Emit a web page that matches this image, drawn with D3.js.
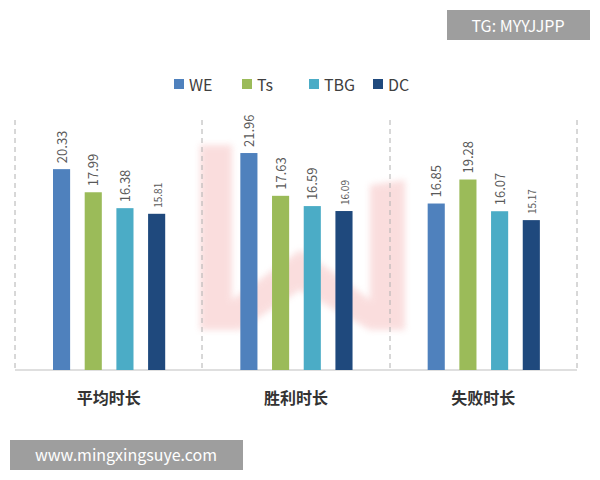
<!DOCTYPE html>
<html><head><meta charset="utf-8">
<script src="https://cdn.jsdelivr.net/npm/d3@7"></script>
<style>body{margin:0;background:#fff}</style></head>
<body><svg id="c" width="600" height="480"></svg>
<script>
const categories=["平均时长","胜利时长","失败时长"];
const seriesNames=["WE","Ts","TBG","DC"];
const WE=[20.33,21.96,16.85];
const Ts=[17.99,17.63,19.28];
const TBG=[16.38,16.59,16.07];
const DC=[15.81,16.09,15.17];
const values=[WE,Ts,TBG,DC];
const colors=["#4f81bd","#9bbb59","#4bacc6","#1f497d"];
const svg=d3.select("#c");
const font="'Noto Sans CJK SC','Noto Sans',sans-serif";
const x0=d3.scaleBand().domain(categories).range([15,577]);
const x1=d3.scaleBand().domain(seriesNames).range([38,150.2]).paddingInner(0.46).paddingOuter(0);
const y=d3.scaleLinear().domain([0,25]).range([370,123]);
const defs=svg.append("defs");
defs.append("filter").attr("id","bl").append("feGaussianBlur").attr("stdDeviation",3);
svg.append("path").attr("d","M200,145 L232,145 L232,300 L300,250 L330,270 L370,300 L370,185 L405,180 L405,330 L370,330 L300,290 L240,330 L200,330 Z")
 .attr("fill","#f4b6b6").attr("opacity",0.45).attr("filter","url(#bl)");
[15,202,390,577].forEach(v=>svg.append("line").attr("x1",v).attr("x2",v).attr("y1",120).attr("y2",370)
 .attr("stroke","#b0b0b0").attr("stroke-dasharray","5,4"));
svg.append("line").attr("x1",15).attr("x2",577).attr("y1",370).attr("y2",370).attr("stroke","#bfbfbf");
categories.forEach((c,i)=>{
  seriesNames.forEach((s,j)=>{
    const v=values[j][i], bx=x0(c)+x1(s);
    svg.append("rect").attr("x",bx).attr("y",y(v)).attr("width",x1.bandwidth()).attr("height",y(0)-y(v)).attr("fill",colors[j]);
    svg.append("text").attr("transform",`translate(${bx+x1.bandwidth()/2+5},${y(v)-6}) rotate(-90)`)
     .attr("font-family",font).attr("font-size",j==3?10:13).attr("fill","#595959").text(v.toFixed(2));
  });
  svg.append("text").attr("x",x0(c)+x0.bandwidth()/2).attr("y",404).attr("text-anchor","middle")
   .attr("font-family",font).attr("font-size",16).attr("font-weight","bold").attr("fill","#333").text(c);
});
const lx=[174,242,309,373];
seriesNames.forEach((s,j)=>{
  svg.append("rect").attr("x",lx[j]).attr("y",79).attr("width",10).attr("height",10).attr("fill",colors[j]);
  svg.append("text").attr("x",lx[j]+15).attr("y",91).attr("font-family",font).attr("font-size",16).attr("fill","#404040").text(s);
});
svg.append("rect").attr("x",447).attr("y",10).attr("width",143).attr("height",30).attr("fill","#9e9e9e");
svg.append("text").attr("x",518).attr("y",32).attr("text-anchor","middle").attr("font-family",font).attr("font-size",16).attr("fill","#fff").text("TG: MYYJJPP");
svg.append("rect").attr("x",10).attr("y",440).attr("width",233).attr("height",30).attr("fill","#9e9e9e");
svg.append("text").attr("x",126).attr("y",461).attr("text-anchor","middle").attr("font-family",font).attr("font-size",16).attr("fill","#fff").text("www.mingxingsuye.com");
</script></body></html>
